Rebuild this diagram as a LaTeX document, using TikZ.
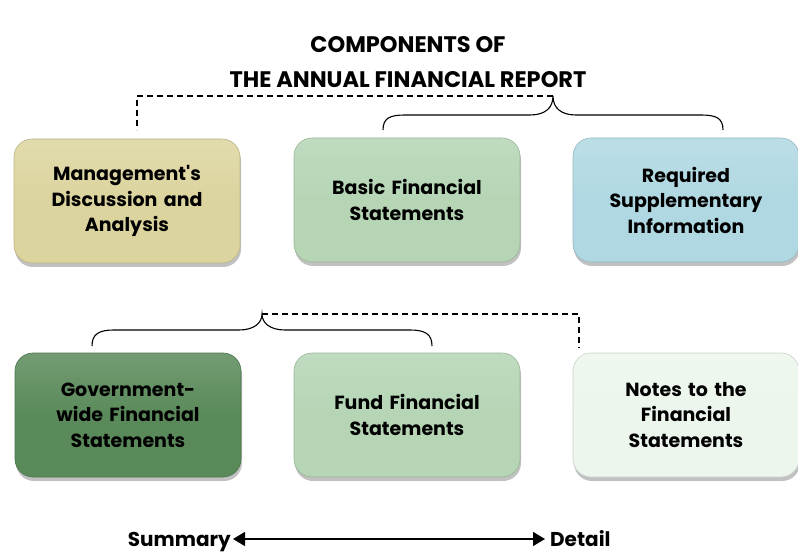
\documentclass[tikz,border=0pt]{standalone}
\usepackage{fontspec}
\setmainfont{Poppins}
\usetikzlibrary{shadows,arrows.meta}
\definecolor{cmda}{HTML}{DCD49E}
\definecolor{cbfs}{HTML}{B5D5B5}
\definecolor{crsi}{HTML}{B0D8E2}
\definecolor{cgw}{HTML}{5A8A5A}
\definecolor{cnotes}{HTML}{ECF6EC}
\tikzset{
  comp/.style={rounded corners=18pt, minimum width=226pt, minimum height=124pt,
    align=center, font=\bfseries\fontsize{19}{25.5}\selectfont, text width=215pt,
    drop shadow={shadow xshift=1pt, shadow yshift=-4pt, opacity=0.35, fill=black!70},
    top color=#1!85!white, bottom color=#1, middle color=#1, draw=#1!85!black, line width=0.6pt},
  brace/.style={line width=1.1pt, black},
  dash line/.style={line width=1.1pt, dashed, dash pattern=on 6pt off 4pt},
  lbl/.style={font=\bfseries\fontsize{20}{22}\selectfont, inner sep=0pt}
}
\begin{document}
\begin{tikzpicture}[x=1pt,y=-1pt]
\useasboundingbox (0,0) rectangle (798,556);
\node[font=\bfseries\fontsize{22.5}{35}\selectfont, align=center] (title) at (408,62)
  {COMPONENTS OF\\THE ANNUAL FINANCIAL REPORT};
\node[comp=cmda] (mda) at (127,201) {Management\textquotesingle s\\Discussion and\\Analysis};
\node[comp=cbfs] (bfs) at (407,200) {Basic Financial\\Statements};
\node[comp=crsi] (rsi) at (686,200) {Required\\Supplementary\\Information};
\node[comp=cgw] (gw) at (128,415) {Government-\\wide Financial\\Statements};
\node[comp=cbfs] (ffs) at (407,415) {Fund Financial\\Statements};
\node[comp=cnotes] (notes) at (686,415) {Notes to the\\Financial\\Statements};
% top brace
\coordinate (tb1) at (383,130);
\coordinate (tbtip) at (553,96);
\coordinate (tb2) at (723,130);
\draw[brace] (tb1) .. controls (383,118) and (390,115) .. (405,115) -- (530,115)
  .. controls (545,115) and (553,108) .. (tbtip)
  .. controls (553,108) and (561,115) .. (576,115) -- (701,115)
  .. controls (716,115) and (723,118) .. (tb2);
\coordinate (td) at (137,130);
\draw[dash line] (tbtip) -- (td|-tbtip) -- (td);
% bottom brace
\coordinate (bb1) at (92,346);
\coordinate (bbtip) at (262,314);
\coordinate (bb2) at (432,346);
\draw[brace] (bb1) .. controls (92,334) and (99,330) .. (114,330) -- (239,330)
  .. controls (254,330) and (262,323) .. (bbtip)
  .. controls (262,323) and (270,330) .. (285,330) -- (410,330)
  .. controls (425,330) and (432,334) .. (bb2);
\coordinate (bd) at (579,348);
\draw[dash line] (bbtip) -- (bd|-bbtip) -- (bd);
% summary/detail
\node[lbl, anchor=base east] (sum) at (231,546) {Summary};
\node[lbl, anchor=base west] (det) at (550,546) {Detail};
\coordinate (a1) at (233,539);
\coordinate (a2) at (545,539);
\draw[line width=1.3pt, {Triangle[length=12pt,width=14pt]}-{Triangle[length=12pt,width=14pt]}] (a1) -- (a2);
\end{tikzpicture}
\end{document}
